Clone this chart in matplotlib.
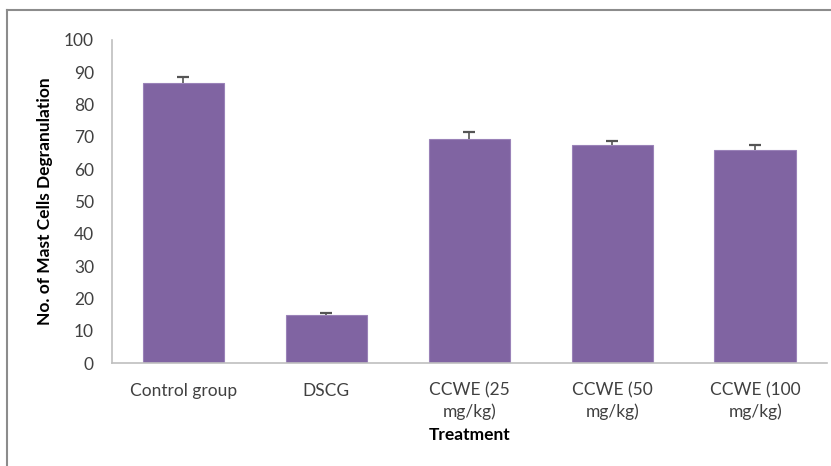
import matplotlib.pyplot as plt
from matplotlib.lines import Line2D

groups = ['Control group', 'DSCG', 'CCWE (25\nmg/kg)', 'CCWE (50\nmg/kg)', 'CCWE (100\nmg/kg)']
means = [86.6, 14.8, 69.5, 67.4, 66.0]
errors = [1.9, 0.8, 2.0, 1.4, 1.4]


def main():
    plt.rcParams['font.family'] = ['Lato', 'DejaVu Sans']

    fig = plt.figure(figsize=(8.31, 4.66), dpi=100)
    ax = fig.add_axes([0.1348, 0.2204, 0.86, 0.6938])

    x = list(range(len(groups)))
    ax.bar(x, means, width=0.57, color='#8064A2', edgecolor='#9A82B8', linewidth=0.8)

    # upper error bars only, with a short cap
    tops = [m + e for m, e in zip(means, errors)]
    ax.errorbar(x, means, yerr=[[0] * len(errors), errors], fmt='none',
                ecolor='#555555', elinewidth=1.2, capsize=0)
    ax.plot(x, tops, linestyle='none', marker='_', markersize=9,
            markeredgewidth=1.6, color='#555555')

    ax.set_xlim(-0.5, len(groups) - 0.5)
    ax.set_ylim(0, 100)
    ax.set_yticks(range(0, 101, 10))
    ax.set_xticks(x)
    ax.set_xticklabels(groups, fontsize=12.5, color='#404040', linespacing=1.35)
    ax.tick_params(axis='y', length=0, pad=13, labelsize=12.5, labelcolor='#404040')
    ax.tick_params(axis='x', length=0, pad=14)

    for side in ['top', 'right']:
        ax.spines[side].set_visible(False)
    for side in ['left', 'bottom']:
        ax.spines[side].set_color('#BFBFBF')
        ax.spines[side].set_linewidth(1.2)

    ax.set_ylabel('No. of Mast Cells Degranulation', fontsize=12.5, fontweight='bold', labelpad=8)
    ax.set_xlabel('Treatment', fontsize=12.5, fontweight='bold', labelpad=5)

    # outer frame of the original figure (top and left edges)
    fig.add_artist(Line2D([0.009, 1.0], [0.978, 0.978], color='#8C8C8C', linewidth=1.5,
                          transform=fig.transFigure))
    fig.add_artist(Line2D([0.009, 0.009], [0.0, 0.978], color='#8C8C8C', linewidth=1.5,
                          transform=fig.transFigure))

    plt.savefig('out.png', dpi=100)


if __name__ == '__main__':
    main()
